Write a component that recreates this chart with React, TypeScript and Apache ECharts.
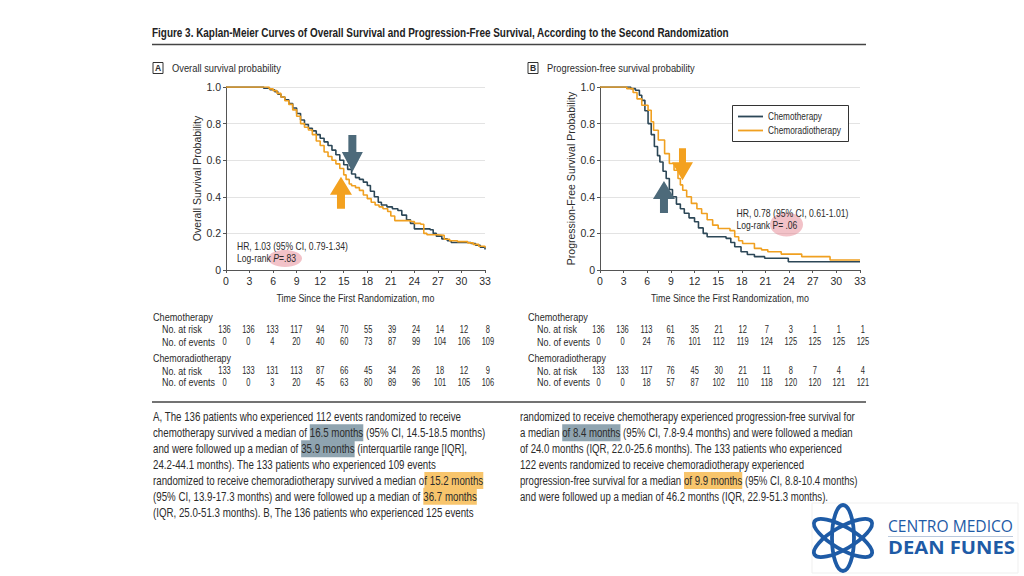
import React, { useEffect, useRef } from "react";
import * as echarts from "echarts";

const FONT = "'Liberation Sans', Arial, sans-serif";
const LOGO_FONT = "'Open Sans','Noto Sans',sans-serif";
const CHEMO = "#2c4757";
const CRT = "#f0a020";
const TEXT = "#2b2b2b";
const ARROW_DARK = "#4d6a7a";
const ARROW_ORANGE = "#f3a11f";
const LOGO_BLUE = "#1e5ba6";

const monthTicks = [0, 3, 6, 9, 12, 15, 18, 21, 24, 27, 30, 33];

// Overall survival (panel A) — [month, probability]
const osChemo: number[][] = [
  [0, 1], [4.8, 0.993], [5.6, 0.985], [6.2, 0.975], [6.6, 0.96], [7.0, 0.945], [7.5, 0.93], [8.0, 0.91],
  [8.5, 0.885], [9.0, 0.855], [9.5, 0.82], [10.0, 0.795], [10.5, 0.775], [11.0, 0.76], [11.5, 0.74],
  [12.0, 0.72], [12.5, 0.7], [13.0, 0.68], [13.5, 0.655], [14.0, 0.63], [14.5, 0.6], [15.0, 0.575],
  [15.5, 0.55], [16.0, 0.525], [16.5, 0.505], [17.0, 0.495], [17.5, 0.48], [18.0, 0.462], [18.4, 0.43],
  [18.9, 0.4], [19.4, 0.37], [19.8, 0.355], [20.5, 0.345], [21.2, 0.335], [21.9, 0.325], [22.4, 0.3],
  [23.0, 0.275], [23.5, 0.255], [24.0, 0.225], [26.0, 0.22], [26.4, 0.2], [26.8, 0.185], [27.5, 0.17],
  [28.2, 0.16], [28.7, 0.15], [31.2, 0.145], [31.8, 0.135], [32.4, 0.125], [33, 0.112],
];
const osCrt: number[][] = [
  [0, 1], [5.5, 0.99], [6.0, 0.98], [6.5, 0.965], [7.0, 0.945], [7.5, 0.925], [8.0, 0.905], [8.5, 0.875],
  [9.0, 0.84], [9.5, 0.8], [10.0, 0.78], [10.5, 0.765], [11.0, 0.74], [11.5, 0.705], [12.0, 0.68],
  [12.5, 0.645], [13.0, 0.62], [13.5, 0.6], [14.0, 0.58], [14.5, 0.555], [15.0, 0.52], [15.3, 0.495],
  [15.7, 0.47], [16.0, 0.46], [16.5, 0.45], [17.0, 0.435], [17.5, 0.41], [18.0, 0.39], [18.5, 0.37],
  [19.0, 0.355], [19.5, 0.345], [20.0, 0.335], [20.6, 0.32], [21.0, 0.295], [21.5, 0.27], [23.5, 0.265],
  [24.0, 0.255], [24.8, 0.25], [25.2, 0.2], [25.6, 0.193], [27.0, 0.19], [27.8, 0.168], [28.5, 0.16],
  [29.5, 0.155], [30.8, 0.148], [31.5, 0.14], [32.2, 0.13], [33, 0.122],
];

// Progression-free survival (panel B)
const pfsChemo: number[][] = [
  [0, 1], [3.9, 0.991], [4.5, 0.982], [5.0, 0.955], [5.3, 0.927], [5.7, 0.87], [6.1, 0.8], [6.5, 0.74],
  [6.9, 0.675], [7.3, 0.625], [7.6, 0.59], [8.0, 0.54], [8.4, 0.5], [8.8, 0.44], [9.2, 0.4], [9.7, 0.36],
  [10.2, 0.335], [10.7, 0.31], [11.3, 0.285], [12.0, 0.264], [12.5, 0.23], [13.1, 0.2], [13.6, 0.182],
  [16.0, 0.173], [16.6, 0.15], [17.1, 0.127], [17.9, 0.1], [18.7, 0.085], [19.6, 0.073], [20.9, 0.064],
  [23.9, 0.045], [33, 0.045],
];
const pfsCrt: number[][] = [
  [0, 1], [3.4, 0.991], [4.2, 0.97], [4.7, 0.935], [5.3, 0.9], [6.1, 0.873], [6.5, 0.81], [6.8, 0.764],
  [7.4, 0.71], [8.2, 0.636], [8.8, 0.582], [9.4, 0.545], [9.9, 0.5], [10.2, 0.465], [10.5, 0.436],
  [11.0, 0.4], [11.6, 0.364], [12.3, 0.335], [12.9, 0.309], [13.6, 0.275], [14.3, 0.245], [15.0, 0.227],
  [16.5, 0.215], [17.1, 0.182], [17.6, 0.16], [18.1, 0.145], [19.6, 0.118], [20.5, 0.11], [21.3, 0.1],
  [23.0, 0.087], [25.6, 0.073], [29.2, 0.055], [33, 0.055],
];

// Number-at-risk tables
const osChemoRisk = [136, 136, 133, 117, 94, 70, 55, 39, 24, 14, 12, 8];
const osChemoEvents = [0, 0, 4, 20, 40, 60, 73, 87, 99, 104, 106, 109];
const osCrtRisk = [133, 133, 131, 113, 87, 66, 45, 34, 26, 18, 12, 9];
const osCrtEvents = [0, 0, 3, 20, 45, 63, 80, 89, 96, 101, 105, 106];
const pfsChemoRisk = [136, 136, 113, 61, 35, 21, 12, 7, 3, 1, 1, 1];
const pfsChemoEvents = [0, 0, 24, 76, 101, 112, 119, 124, 125, 125, 125, 125];
const pfsCrtRisk = [133, 133, 117, 76, 45, 30, 21, 11, 8, 7, 4, 4];
const pfsCrtEvents = [0, 0, 18, 57, 87, 102, 110, 118, 120, 120, 121, 121];

const TITLE =
  "Figure 3. Kaplan-Meier Curves of Overall Survival and Progression-Free Survival, According to the Second Randomization";

const captionA = [
  "A, The 136 patients who experienced 112 events randomized to receive",
  "chemotherapy survived a median of {g|16.5 months} (95% CI, 14.5-18.5 months)",
  "and were followed up a median of {g|35.9 months} (interquartile range [IQR],",
  "24.2-44.1 months). The 133 patients who experienced 109 events",
  "randomized to receive chemoradiotherapy survived a median o{o|f 15.2 months}",
  "(95% CI, 13.9-17.3 months) and were followed up a median of {o|36.7 months}",
  "(IQR, 25.0-51.3 months). B, The 136 patients who experienced 125 events",
];
const captionAWidths = [304, 340, 320, 275, 334, 321, 319];
const captionB = [
  "randomized to receive chemotherapy experienced progression-free survival for",
  "a median {g|of 8.4 months} (95% CI, 7.8-9.4 months) and were followed a median",
  "of 24.0 months (IQR, 22.0-25.6 months). The 133 patients who experienced",
  "122 events randomized to receive chemoradiotherapy experienced",
  "progression-free survival for a median {o|of 9.9 months} (95% CI, 8.8-10.4 months)",
  "and were followed up a median of 46.2 months (IQR, 22.9-51.3 months).",
];
const captionBWidths = [343, 342, 323, 260, 343, 310];

let measureCtx: CanvasRenderingContext2D | null = null;
function measure(text: string, size: number, weight = "normal", family = FONT) {
  if (!measureCtx) measureCtx = document.createElement("canvas").getContext("2d");
  const plain = text.replace(/\{[a-z]+\|([^}]*)\}/g, "$1");
  measureCtx!.font = `${weight} ${size}px ${family}`;
  return measureCtx!.measureText(plain).width || 1;
}

function xAxis(gridIndex: number) {
  return {
    type: "value",
    gridIndex,
    min: 0,
    max: 33,
    interval: 3,
    axisLine: { show: true, lineStyle: { color: "#555", width: 1 } },
    axisTick: { show: true, length: 3, lineStyle: { color: "#555" } },
    axisLabel: { fontFamily: FONT, fontSize: 10.5, color: TEXT, margin: 5 },
    splitLine: { show: false },
  };
}
function yAxis(gridIndex: number, name: string) {
  return {
    type: "value",
    gridIndex,
    min: 0,
    max: 1,
    interval: 0.2,
    name,
    nameLocation: "middle",
    nameGap: 23,
    nameTextStyle: { fontFamily: FONT, fontSize: 10.5, color: TEXT },
    axisLine: { show: true, lineStyle: { color: "#555", width: 1 } },
    axisTick: { show: true, length: 3, lineStyle: { color: "#555" } },
    axisLabel: {
      fontFamily: FONT,
      fontSize: 10.5,
      color: TEXT,
      margin: 5,
      formatter: (v: number) => (v === 0 ? "0" : v.toFixed(1)),
    },
    splitLine: { show: true, lineStyle: { color: "#e3e3e3", width: 1 } },
  };
}
function kmSeries(name: string, data: number[][], idx: number, color: string) {
  return {
    type: "line",
    name,
    data,
    xAxisIndex: idx,
    yAxisIndex: idx,
    step: "end",
    symbol: "none",
    lineStyle: { color, width: 1.6 },
    itemStyle: { color },
    z: color === CRT ? 3 : 2,
  };
}

// text with a horizontal squeeze so that it spans `width` px
function fit(x: number, y: number, text: string, size: number, width: number | null, opts: any = {}, scale?: number) {
  const weight = opts.fontWeight || "normal";
  const family = opts.fontFamily || FONT;
  const sx = scale != null ? scale : width != null ? width / measure(text, size, weight, family) : 1;
  return {
    type: "text",
    x,
    y,
    scaleX: sx,
    z: 10,
    style: {
      text,
      fontFamily: family,
      fontSize: size,
      fill: TEXT,
      align: "left",
      verticalAlign: "middle",
      ...opts,
    },
  };
}

function arrow(tip: number[], down: boolean, len: number, headH: number, headW: number, shaftW: number, color: string) {
  const [tx, ty] = tip;
  const s = down ? -1 : 1;
  const pts = [
    [tx - shaftW / 2, ty + s * len],
    [tx + shaftW / 2, ty + s * len],
    [tx + shaftW / 2, ty + s * headH],
    [tx + headW / 2, ty + s * headH],
    [tx, ty],
    [tx - headW / 2, ty + s * headH],
    [tx - shaftW / 2, ty + s * headH],
  ];
  return { type: "polygon", z: 9, shape: { points: pts }, style: { fill: color } };
}

function riskTable(chart: any, gridIndex: number, labelX: number, rows: number[][]) {
  const els: any[] = [];
  const ys = [317, 329.5, 341.8, 358.5, 370.8, 382.2];
  els.push(fit(labelX, ys[0], "Chemotherapy", 10.5, 60));
  els.push(fit(labelX + 9, ys[1], "No. at risk", 10.5, 40));
  els.push(fit(labelX + 9, ys[2], "No. of events", 10.5, 53));
  els.push(fit(labelX, ys[3], "Chemoradiotherapy", 10.5, 78));
  els.push(fit(labelX + 9, ys[4], "No. at risk", 10.5, 40));
  els.push(fit(labelX + 9, ys[5], "No. of events", 10.5, 53));
  const rowY = [ys[1], ys[2], ys[4], ys[5]];
  const numScale = 12.5 / measure("136", 10.5);
  rows.forEach((row, r) => {
    row.forEach((v, i) => {
      const p = chart.convertToPixel({ gridIndex }, [monthTicks[i], 0]);
      const x = p[0] + i * 0.4 - 1.5;
      els.push(fit(x, rowY[r], String(v), 10.5, null, { align: "center" }, numScale));
    });
  });
  return els;
}

function caption(x: number, lines: string[], widths: number[]) {
  const size = 12.5;
  const measured = lines.reduce((s, l) => s + measure(l, size), 0);
  const target = widths.reduce((s, w) => s + w, 0);
  const sc = target / measured;
  const base = { fontFamily: FONT, fontSize: size, fill: TEXT };
  return lines.map((l, i) =>
    fit(
      x,
      417 + i * 15.85,
      l,
      size,
      null,
      {
        rich: {
          g: { ...base, backgroundColor: "#8fa4b0", padding: [2, 0, 2, 0] },
          o: { ...base, backgroundColor: "#f8c56c", padding: [2, 0, 2, 0] },
        },
      },
      sc
    )
  );
}

export default function App() {
  const ref = useRef<HTMLDivElement>(null);
  useEffect(() => {
    const chart = echarts.init(ref.current!, null, { renderer: "svg" });
    chart.setOption({
      animation: false,
      backgroundColor: "#ffffff",
      grid: [
        { left: 226, top: 87, width: 259, height: 183 },
        { left: 600, top: 87, width: 260, height: 183 },
      ],
      xAxis: [xAxis(0), xAxis(1)],
      yAxis: [yAxis(0, "Overall Survival Probability"), yAxis(1, "Progression-Free Survival Probability")],
      series: [
        kmSeries("Chemotherapy", osChemo, 0, CHEMO),
        kmSeries("Chemoradiotherapy", osCrt, 0, CRT),
        kmSeries("Chemotherapy", pfsChemo, 1, CHEMO),
        kmSeries("Chemoradiotherapy", pfsCrt, 1, CRT),
      ],
    });

    const px = (g: number, v: number[]) => chart.convertToPixel({ gridIndex: g }, v) as number[];
    const axA = px(0, [16.5, 0]);
    const axB = px(1, [16.5, 0]);

    const graphics: any[] = [
      fit(152, 33, TITLE, 12.5, 578, { fontWeight: "bold", fill: "#222" }),
      { type: "line", shape: { x1: 152, y1: 44.5, x2: 866, y2: 44.5 }, style: { stroke: "#444", lineWidth: 1.4 } },
      { type: "line", shape: { x1: 152, y1: 402, x2: 866, y2: 402 }, style: { stroke: "#444", lineWidth: 1.4 } },
      // panel labels
      { type: "rect", shape: { x: 153, y: 62.5, width: 10, height: 11 }, style: { fill: "#fff", stroke: "#333", lineWidth: 1 } },
      fit(158, 68.3, "A", 8.5, null, { align: "center", fontWeight: "bold" }),
      fit(172, 68, "Overall survival probability", 11, 109),
      { type: "rect", shape: { x: 528, y: 62.5, width: 10, height: 11 }, style: { fill: "#fff", stroke: "#333", lineWidth: 1 } },
      fit(533, 68.3, "B", 8.5, null, { align: "center", fontWeight: "bold" }),
      fit(547, 68, "Progression-free survival probability", 11, 148),
      // x-axis titles
      fit(axA[0] - 79, 298, "Time Since the First Randomization, mo", 11, 158),
      fit(axB[0] - 79, 298, "Time Since the First Randomization, mo", 11, 158),
      // legend (panel B)
      { type: "rect", z: 10, shape: { x: 732.5, y: 105.5, width: 116, height: 36 }, style: { fill: "#fff", stroke: "#333", lineWidth: 1 } },
      { type: "line", z: 11, shape: { x1: 738, y1: 116.5, x2: 763, y2: 116.5 }, style: { stroke: CHEMO, lineWidth: 1.8 } },
      { type: "line", z: 11, shape: { x1: 738, y1: 130.5, x2: 763, y2: 130.5 }, style: { stroke: CRT, lineWidth: 1.8 } },
      { ...fit(768, 116, "Chemotherapy", 10.5, 54), z: 11 },
      { ...fit(768, 130, "Chemoradiotherapy", 10.5, 73), z: 11 },
      // arrows
      arrow(px(0, [16.1, 0.535]), true, 37, 20, 21, 8, ARROW_DARK),
      arrow(px(0, [14.65, 0.51]), false, 32, 18, 22, 8, ARROW_ORANGE),
      arrow(px(1, [10.47, 0.491]), true, 32, 18, 21, 7, ARROW_ORANGE),
      arrow(px(1, [8.12, 0.486]), false, 32, 18, 22, 8, ARROW_DARK),
      // HR annotations
      { type: "ellipse", z: 8, shape: { cx: 285, cy: 258.5, rx: 17, ry: 8.5 }, style: { fill: "rgba(226,120,132,0.45)" } },
      fit(237, 246.5, "HR, 1.03 (95% CI, 0.79-1.34)", 10.5, 111),
      fit(237, 258, "Log-rank {i|P}=.83", 10.5, 59, {
        rich: { i: { fontFamily: FONT, fontSize: 10.5, fontStyle: "italic", fill: TEXT } },
      }),
      { type: "ellipse", z: 8, shape: { cx: 786.5, cy: 224.5, rx: 16.5, ry: 12 }, style: { fill: "rgba(226,120,132,0.45)" } },
      fit(736.5, 213.5, "HR, 0.78 (95% CI, 0.61-1.01)", 10.5, 112),
      fit(736.5, 225.5, "Log-rank P= .06", 10.5, 61),
      ...riskTable(chart, 0, 153, [osChemoRisk, osChemoEvents, osCrtRisk, osCrtEvents]),
      ...riskTable(chart, 1, 528, [pfsChemoRisk, pfsChemoEvents, pfsCrtRisk, pfsCrtEvents]),
      ...caption(153, captionA, captionAWidths),
      ...caption(520, captionB, captionBWidths),
      // logo
      { type: "rect", z: 5, shape: { x: 812, y: 503, width: 206, height: 70 }, style: { fill: "#fff", stroke: "#efefef", lineWidth: 1 } },
      {
        type: "group",
        x: 843,
        y: 538,
        z: 12,
        children: [0, Math.PI / 3, -Math.PI / 3].map((r) => ({
          type: "ellipse",
          rotation: r + Math.PI / 2,
          shape: { cx: 0, cy: 0, rx: 33, ry: 11 },
          style: { fill: "none", stroke: LOGO_BLUE, lineWidth: 3.8 },
          z: 12,
        })),
      },
      { ...fit(888, 526, "CENTRO MEDICO", 15.5, 125, { fontFamily: LOGO_FONT, fill: LOGO_BLUE }), z: 12 },
      { type: "line", z: 12, shape: { x1: 888, y1: 536.5, x2: 1013, y2: 536.5 }, style: { stroke: "#b9c8dc", lineWidth: 1 } },
      { ...fit(888, 547, "DEAN FUNES", 17, 127, { fontFamily: LOGO_FONT, fontWeight: "bold", fill: LOGO_BLUE }), z: 12 },
    ];
    chart.setOption({ graphic: graphics });
    return () => chart.dispose();
  }, []);
  return (
    <div
      ref={ref}
      style={{ position: "fixed", left: 0, top: 0, width: 1024, height: 576, background: "#fff" }}
    />
  );
}
